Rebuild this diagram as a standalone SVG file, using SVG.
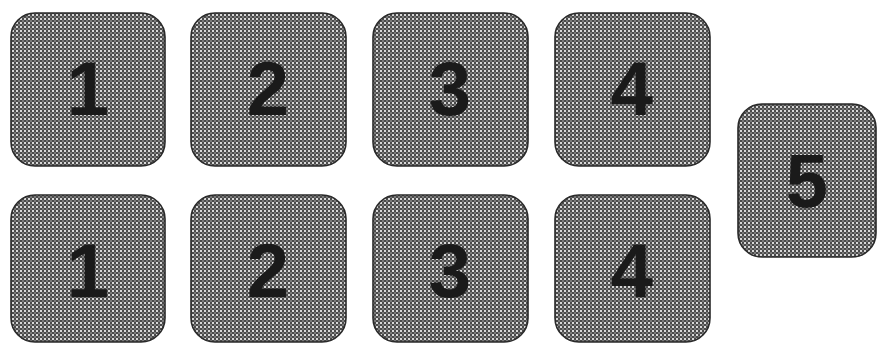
<svg xmlns="http://www.w3.org/2000/svg" width="880" height="345" viewBox="0 0 880 345">
<defs>
<pattern id="chk" width="4" height="4" patternUnits="userSpaceOnUse">
<rect width="4" height="4" fill="#d8d8d8"/>
<rect x="0" y="0" width="2" height="2" fill="#4a4a4a"/>
<rect x="2" y="2" width="2" height="2" fill="#4a4a4a"/>
<rect x="2" y="0" width="2" height="2" fill="#7a7a7a"/>
</pattern>
</defs>
<style>
.box{fill:url(#chk);stroke:#2a2a2a;stroke-width:1.6}
.num{font-family:"Liberation Sans",Arial,sans-serif;font-weight:bold;font-size:76px;fill:#1a1a1a;text-anchor:middle}
</style>
<rect width="880" height="345" fill="#ffffff"/>
<g id="connectors"></g>
<g id="n1a"><rect class="box" x="11" y="13" width="154" height="153" rx="24"/><text class="num" x="88" y="115">1</text></g>
<g id="n2a"><rect class="box" x="191" y="13" width="155" height="153" rx="24"/><text class="num" x="268" y="115">2</text></g>
<g id="n3a"><rect class="box" x="373" y="13" width="155" height="153" rx="24"/><text class="num" x="450" y="115">3</text></g>
<g id="n4a"><rect class="box" x="555" y="13" width="155" height="153" rx="24"/><text class="num" x="632" y="115">4</text></g>
<g id="n5"><rect class="box" x="738" y="104" width="138" height="153" rx="24"/><text class="num" x="807" y="207">5</text></g>
<g id="n1b"><rect class="box" x="11" y="195" width="154" height="147" rx="24"/><text class="num" x="88" y="297">1</text></g>
<g id="n2b"><rect class="box" x="191" y="195" width="155" height="147" rx="24"/><text class="num" x="268" y="297">2</text></g>
<g id="n3b"><rect class="box" x="373" y="195" width="155" height="147" rx="24"/><text class="num" x="450" y="297">3</text></g>
<g id="n4b"><rect class="box" x="555" y="195" width="155" height="147" rx="24"/><text class="num" x="632" y="297">4</text></g>
</svg>
